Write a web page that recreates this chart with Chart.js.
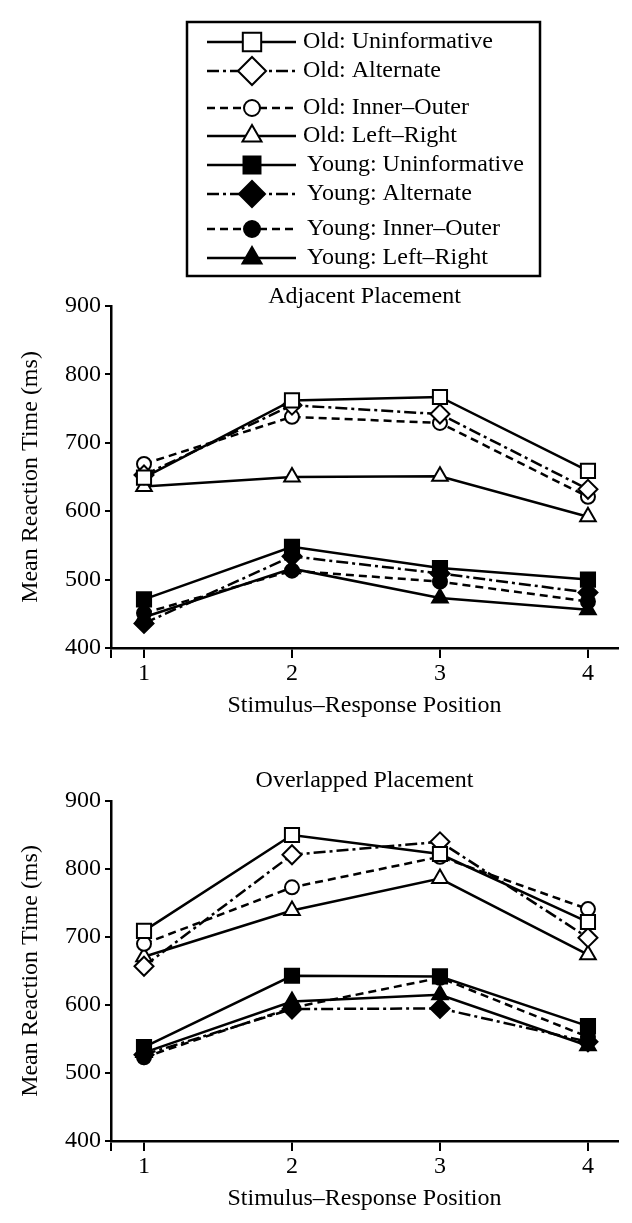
<!DOCTYPE html>
<html>
<head>
<meta charset="utf-8">
<script src="https://cdn.jsdelivr.net/npm/chart.js@4.4.1/dist/chart.umd.min.js"></script>
<style>
  html, body { margin: 0; padding: 0; background: #fff; }
  #wrap { position: relative; width: 632px; height: 1223px; }
  #adjacent { position: absolute; left: 0; top: 0; }
  #overlapped { position: absolute; left: 0; top: 730px; }
</style>
</head>
<body>
<div id="wrap">
  <canvas id="adjacent" width="632" height="730"></canvas>
  <canvas id="overlapped" width="632" height="493"></canvas>
</div>
<script>
// stimulus-response positions (x) and y ticks
var positions = [1, 2, 3, 4];
var yTicks = [400, 500, 600, 700, 800, 900];
var seriesNames = ['Old: Uninformative', 'Old: Alternate', 'Old: Inner\u2013Outer', 'Old: Left\u2013Right',
                   'Young: Uninformative', 'Young: Alternate', 'Young: Inner\u2013Outer', 'Young: Left\u2013Right'];

// Adjacent placement, mean RT (ms)
var adjOldUninformative   = [649, 762, 767, 659];
var adjOldAlternate       = [653, 755, 742, 632];
var adjOldInnerOuter      = [669, 738, 729, 621];
var adjOldLeftRight       = [636, 650, 651, 592];
var adjYoungUninformative = [471, 548, 517, 500];
var adjYoungAlternate     = [436, 534, 509, 481];
var adjYoungInnerOuter    = [451, 513, 497, 468];
var adjYoungLeftRight     = [445, 516, 473, 456];

// Overlapped placement, mean RT (ms)
var ovlOldUninformative   = [709, 850, 822, 722];
var ovlOldAlternate       = [657, 821, 840, 699];
var ovlOldInnerOuter      = [690, 773, 818, 741];
var ovlOldLeftRight       = [671, 739, 786, 674];
var ovlYoungUninformative = [538, 643, 642, 569];
var ovlYoungAlternate     = [527, 594, 595, 546];
var ovlYoungInnerOuter    = [523, 596, 640, 553];
var ovlYoungLeftRight     = [530, 605, 615, 540];

var adjacentSeries = [adjOldUninformative, adjOldAlternate, adjOldInnerOuter, adjOldLeftRight,
                      adjYoungUninformative, adjYoungAlternate, adjYoungInnerOuter, adjYoungLeftRight];
var overlappedSeries = [ovlOldUninformative, ovlOldAlternate, ovlOldInnerOuter, ovlOldLeftRight,
                        ovlYoungUninformative, ovlYoungAlternate, ovlYoungInnerOuter, ovlYoungLeftRight];

// marker / line look per series (r = plot marker, lr = legend marker)
var SOLID = [], DASH = [8, 5], DASHDOT = [12, 4, 3, 4];
var styles = [
  { shape: 'rect',     r: 10,  lr: 13, fill: '#fff', dash: SOLID },
  { shape: 'rectRot',  r: 9.5, lr: 14, fill: '#fff', dash: DASHDOT },
  { shape: 'circle',   r: 7,   lr: 8,  fill: '#fff', dash: DASH },
  { shape: 'triangle', r: 9,   lr: 11, fill: '#fff', dash: SOLID },
  { shape: 'rect',     r: 10,  lr: 12, fill: '#000', dash: SOLID },
  { shape: 'rectRot',  r: 9.5, lr: 13, fill: '#000', dash: DASHDOT },
  { shape: 'circle',   r: 7,   lr: 8,  fill: '#000', dash: DASH },
  { shape: 'triangle', r: 9,   lr: 11, fill: '#000', dash: SOLID }
];

var FONT = '"Liberation Serif", "Times New Roman", serif';
var FS = 24;
var xMin = 0.777, xMax = 4.203;
Chart.defaults.color = '#000';
Chart.defaults.font.family = FONT;

function makeDatasets(series) {
  return series.map(function(vals, i) {
    var s = styles[i];
    return {
      label: seriesNames[i],
      data: positions.map(function(x, j) { return { x: x, y: vals[j] }; }),
      borderColor: '#000',
      borderWidth: 2.5,
      borderDash: s.dash,
      pointStyle: s.shape,
      pointRadius: s.r,
      pointBackgroundColor: s.fill,
      pointBorderColor: '#000',
      pointBorderWidth: 2,
      tension: 0
    };
  });
}

// panel title drawn over the plot
var panelTitle = {
  id: 'panelTitle',
  afterDraw: function(chart, args, opts) {
    var ctx = chart.ctx, a = chart.chartArea;
    ctx.save();
    ctx.font = FS + 'px ' + FONT;
    ctx.fillStyle = '#000';
    ctx.textAlign = 'center';
    ctx.textBaseline = 'middle';
    ctx.fillText(opts.text, (a.left + a.right) / 2, opts.y);
    ctx.restore();
  }
};

// boxed legend with line + marker samples
var boxLegend = {
  id: 'boxLegend',
  afterDraw: function(chart, args, opts) {
    if (!opts.show) return;
    var ctx = chart.ctx;
    var rows = [42, 71, 108, 136, 165, 194, 229, 258];
    ctx.save();
    ctx.strokeStyle = '#000';
    ctx.lineWidth = 2.5;
    ctx.strokeRect(187, 22, 353, 254);
    ctx.font = FS + 'px ' + FONT;
    ctx.textBaseline = 'middle';
    ctx.textAlign = 'left';
    chart.data.datasets.forEach(function(ds, i) {
      var y = rows[i];
      ctx.setLineDash(ds.borderDash);
      ctx.lineWidth = 2.5;
      ctx.strokeStyle = '#000';
      ctx.beginPath();
      ctx.moveTo(207, y);
      ctx.lineTo(296, y);
      ctx.stroke();
      ctx.setLineDash([]);
      ctx.lineWidth = 2;
      ctx.fillStyle = ds.pointBackgroundColor;
      Chart.helpers.drawPoint(ctx, { pointStyle: ds.pointStyle, radius: styles[i].lr, rotation: 0, borderWidth: 2 }, 252, y);
      ctx.fillStyle = '#000';
      ctx.fillText(ds.label, i < 4 ? 303 : 307, y);
    });
    ctx.restore();
  }
};

function makeChart(id, series, title, topPad, titleY, showLegend) {
  return new Chart(document.getElementById(id), {
    type: 'line',
    data: { datasets: makeDatasets(series) },
    plugins: [panelTitle, boxLegend],
    options: {
      responsive: false,
      animation: false,
      devicePixelRatio: 1,
      layout: { padding: { top: topPad, right: 14, left: 0, bottom: 0 } },
      plugins: {
        legend: { display: false },
        tooltip: { enabled: false },
        panelTitle: { text: title, y: titleY },
        boxLegend: { show: showLegend }
      },
      scales: {
        x: {
          type: 'linear',
          min: xMin,
          max: xMax,
          afterBuildTicks: function(scale) {
            scale.ticks = [xMin].concat(positions).map(function(v) { return { value: v }; });
          },
          afterFit: function(scale) { scale.height = 82; },
          ticks: {
            padding: 1,
            font: { size: FS },
            maxRotation: 0,
            callback: function(v) { return positions.indexOf(v) >= 0 ? String(v) : ''; }
          },
          grid: { drawOnChartArea: false, color: '#000', lineWidth: 2, tickLength: 10 },
          border: { display: true, color: '#000', width: 2.5 },
          title: { display: true, text: 'Stimulus\u2013Response Position', font: { size: FS }, padding: { top: 0, bottom: 10 } }
        },
        y: {
          min: yTicks[0],
          max: yTicks[yTicks.length - 1],
          afterBuildTicks: function(scale) {
            scale.ticks = yTicks.map(function(v) { return { value: v }; });
          },
          afterFit: function(scale) { scale.width = 111; },
          ticks: { padding: 4, font: { size: FS } },
          grid: { drawOnChartArea: false, color: '#000', lineWidth: 2, tickLength: 6 },
          border: { display: true, color: '#000', width: 2.5 },
          title: { display: true, text: 'Mean Reaction Time (ms)', font: { size: FS }, padding: { top: 16, bottom: 0 } }
        }
      }
    }
  });
}

makeChart('adjacent', adjacentSeries, 'Adjacent Placement', 306, 297, true);
makeChart('overlapped', overlappedSeries, 'Overlapped Placement', 71, 51, false);
</script>
</body>
</html>
